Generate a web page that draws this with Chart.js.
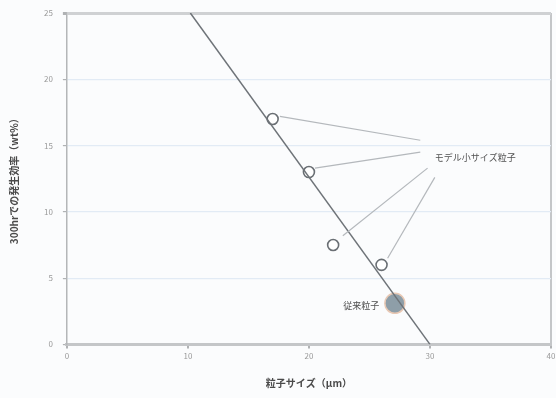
<!DOCTYPE html>
<html>
<head>
<meta charset="utf-8">
<script src="https://cdn.jsdelivr.net/npm/chart.js@4"></script>
<style>
  html, body { margin: 0; padding: 0; background: #fbfcfd; }
  #wrap { width: 556px; height: 398px; }
</style>
</head>
<body>
<div id="wrap"><canvas id="chart"></canvas></div>
<script>
const xTicks = [0, 10, 20, 30, 40];
const yTicks = [0, 5, 10, 15, 20, 25];

// model small-size particles
const smallX = [17, 20, 22, 26];
const smallY = [17, 13, 7.5, 6];

// conventional particle
const convX = [27.1];
const convY = [3.1];

// trend line ends
const trendX = [10.2, 30];
const trendY = [25, 0];

// leader lines: start near each marker, end near the label
const leadFromX = [17.6, 20.5, 22.8, 26.5];
const leadFromY = [17.2, 13.3, 8.2, 6.5];
const leadToX = [29.2, 29.2, 29.8, 30.4];
const leadToY = [15.4, 14.5, 13.3, 12.6];

const labelSmall = "モデル小サイズ粒子";
const labelConv = "従来粒子";

const FONT = "'Noto Sans CJK JP', 'Noto Sans', sans-serif";

function pts(xs, ys) {
    return xs.map((x, i) => ({ x, y: ys[i] }));
}

const leaders = leadFromX.map((x, i) => ({
    type: "scatter",
    data: [{ x, y: leadFromY[i] }, { x: leadToX[i], y: leadToY[i] }],
    showLine: true,
    borderColor: "#b4b8bc",
    borderWidth: 1.2,
    pointRadius: 0
}));

// text labels placed in data coordinates
const labelPlugin = {
    id: "labels",
    afterDatasetsDraw(chart) {
        const { ctx, scales } = chart;
        ctx.save();
        ctx.fillStyle = "#505050";
        ctx.font = "9px " + FONT;
        ctx.textBaseline = "middle";
        ctx.textAlign = "left";
        ctx.fillText(labelSmall, scales.x.getPixelForValue(30.4), scales.y.getPixelForValue(14.1));
        ctx.textAlign = "right";
        ctx.fillText(labelConv, scales.x.getPixelForValue(25.8), scales.y.getPixelForValue(2.9));
        ctx.restore();
    }
};

new Chart(document.getElementById("chart"), {
    type: "scatter",
    data: {
        datasets: [
            ...leaders,
            {
                data: pts(trendX, trendY),
                showLine: true,
                borderColor: "#6e7378",
                borderWidth: 1.5,
                pointRadius: 0
            },
            {
                data: pts(smallX, smallY),
                pointRadius: 5.5,
                pointBackgroundColor: "#ffffff",
                pointBorderColor: "#6a6f74",
                pointBorderWidth: 1.6
            },
            {
                data: pts(convX, convY),
                pointRadius: 10,
                pointBackgroundColor: "#8e9ea8",
                pointBorderColor: "#e8c8b4",
                pointBorderWidth: 1.5
            }
        ]
    },
    options: {
        responsive: true,
        maintainAspectRatio: false,
        animation: false,
        layout: { autoPadding: false, padding: { top: 13, right: 5, left: 8, bottom: 9 } },
        plugins: { legend: { display: false }, tooltip: { enabled: false } },
        scales: {
            x: {
                type: "linear",
                min: 0,
                max: 40,
                afterBuildTicks: s => { s.ticks = xTicks.map(v => ({ value: v })); },
                afterFit: s => { s.paddingRight = 0; },
                grid: {
                    color: c => c.tick.value === 40 ? "#c4c6c8" : "transparent",
                    lineWidth: 2,
                    tickColor: "#b0b2b4",
                    tickLength: 4,
                    drawTicks: true
                },
                border: { color: "#c4c6c8", width: 3 },
                ticks: { color: "#999", font: { size: 8, family: FONT }, padding: 3 },
                title: {
                    display: true,
                    text: "粒子サイズ（μm）",
                    color: "#4a4a4a",
                    font: { size: 10, family: FONT, weight: "bold" },
                    padding: { top: 13, bottom: 0 }
                }
            },
            y: {
                type: "linear",
                min: 0,
                max: 25,
                afterBuildTicks: s => { s.ticks = yTicks.map(v => ({ value: v })); },
                afterFit: s => { s.paddingTop = 0; },
                grid: {
                    color: c => c.tick.value === 25 ? "#cfd1d3" : "#e2ebf5",
                    lineWidth: c => c.tick.value === 25 ? 3 : 1.2,
                    tickColor: "#b0b2b4",
                    tickLength: 4
                },
                border: { color: "#b4b6b8", width: 1.5 },
                ticks: { color: "#999", font: { size: 8, family: FONT }, padding: 10 },
                title: {
                    display: true,
                    text: "300hrでの発生効率（wt%）",
                    color: "#4a4a4a",
                    font: { size: 10, family: FONT, weight: "bold" },
                    padding: { top: 0, bottom: 14 }
                }
            }
        }
    },
    plugins: [labelPlugin]
});
</script>
</body>
</html>
